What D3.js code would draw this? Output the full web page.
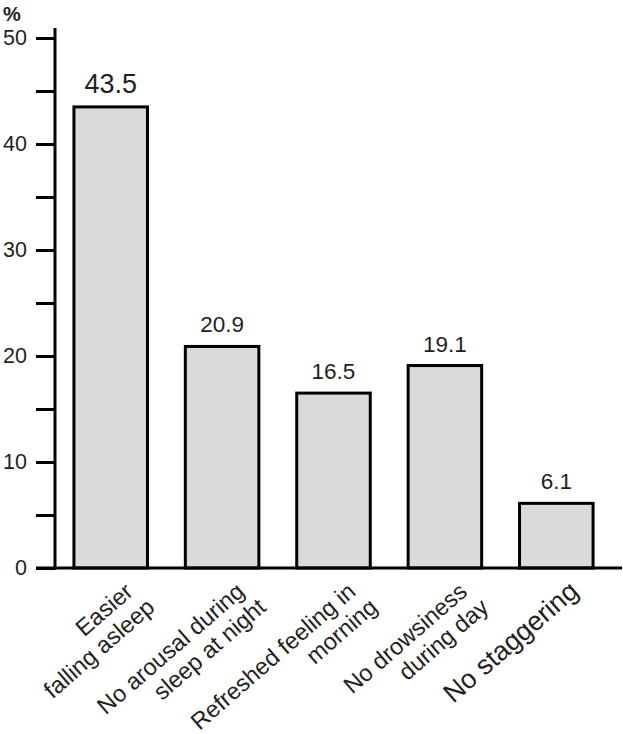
<!DOCTYPE html>
<html>
<head>
<meta charset="utf-8">
<script src="https://cdn.jsdelivr.net/npm/d3@7"></script>
<style>
  body { margin: 0; background: #fff; }
  text { font-family: "Liberation Sans", Arial, sans-serif; fill: #231f20; }
</style>
</head>
<body>
<svg id="chart" width="623" height="734"></svg>
<script>
// data
const categories = [
  ["Easier", "falling asleep"],
  ["No arousal during", "sleep at night"],
  ["Refreshed feeling in", "morning"],
  ["No drowsiness", "during day"],
  ["No staggering"]
]
const values = [43.5, 20.9, 16.5, 19.1, 6.1]
const yTicks = [0, 10, 20, 30, 40, 50]
const yMinorTicks = [5, 15, 25, 35, 45]

const svg = d3.select("#chart")
const axisY = 568
const axisX = 55

const x = d3.scaleBand()
  .domain(d3.range(values.length))
  .range([axisX, 612])
  .paddingInner(0.34)
  .paddingOuter(0.17)

const y = d3.scaleLinear()
  .domain([0, 50])
  .range([axisY, 38])

// y axis: major ticks labelled, minor ticks same length
const yAxis = d3.axisLeft(y)
  .tickValues(yTicks.concat(yMinorTicks))
  .tickSize(19)
  .tickPadding(9)
  .tickFormat(d => yTicks.includes(d) ? d : "")

const yg = svg.append("g")
  .attr("transform", `translate(${axisX},0)`)
  .call(yAxis)
yg.select(".domain").remove()
yg.selectAll(".tick line").attr("stroke", "#000").attr("stroke-width", 3)
yg.selectAll(".tick text")
  .style("font-size", "21.5px")
  .style("font-family", "Liberation Sans, Arial, sans-serif")
  .attr("fill", "#231f20")

svg.append("line")
  .attr("x1", axisX).attr("x2", axisX)
  .attr("y1", 28).attr("y2", axisY + 1.5)
  .attr("stroke", "#000").attr("stroke-width", 3)

svg.append("text")
  .attr("x", 3).attr("y", 21)
  .style("font-size", "20px")
  .style("font-weight", "bold")
  .text("%")

// bars
svg.selectAll("rect.bar")
  .data(values)
  .enter().append("rect")
  .attr("class", "bar")
  .attr("x", (d, i) => x(i))
  .attr("y", d => y(d))
  .attr("width", x.bandwidth())
  .attr("height", d => axisY - y(d))
  .attr("fill", "#d9dbdb")
  .attr("stroke", "#000")
  .attr("stroke-width", 3)

// x axis line
svg.append("line")
  .attr("x1", 36).attr("x2", 622)
  .attr("y1", axisY).attr("y2", axisY)
  .attr("stroke", "#000").attr("stroke-width", 3)

// value labels
svg.selectAll("text.val")
  .data(values)
  .enter().append("text")
  .attr("class", "val")
  .attr("x", (d, i) => x(i) + x.bandwidth() / 2)
  .attr("y", d => y(d) - 14)
  .attr("text-anchor", "middle")
  .style("font-size", (d, i) => i === 0 ? "27px" : "22.5px")
  .text(d => d.toFixed(1))

// rotated category labels, right aligned, ending under the bar centre
const angle = -41
const lh = 26
categories.forEach((lines, i) => {
  const cx = x(i) + x.bandwidth() / 2
  const fs = i === categories.length - 1 ? 27 : 23.5
  const g = svg.append("g")
    .attr("transform", `translate(${cx},${axisY}) rotate(${angle})`)
  lines.forEach((l, j) => g.append("text")
    .attr("x", 1 + j * 6)
    .attr("y", 35 + j * lh)
    .attr("text-anchor", "end")
    .style("font-size", fs + "px")
    .text(l))
})
</script>
</body>
</html>
